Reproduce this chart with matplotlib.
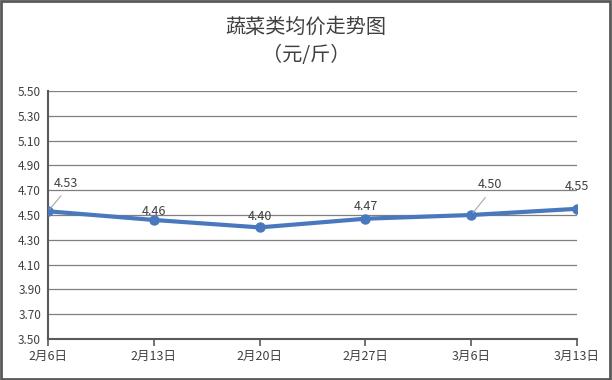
import numpy as np
import matplotlib.pyplot as plt
from matplotlib.patches import Rectangle

plt.rcParams['font.family'] = ['Noto Sans CJK SC', 'DejaVu Sans']

#chart data
dates = ['2月6日', '2月13日', '2月20日', '2月27日', '3月6日', '3月13日']
prices = [4.53, 4.46, 4.40, 4.47, 4.50, 4.55]
yticks = [3.50, 3.70, 3.90, 4.10, 4.30, 4.50, 4.70, 4.90, 5.10, 5.30, 5.50]
#label offsets in pixels (dx, dy), leader line flag
lab_off = [(18, 28, True), (0, 8, False), (0, 11, False), (0, 12, False), (19, 30, True), (0, 22, False)]

fig = plt.figure(figsize=(6.12, 3.8), dpi=100)
ax = fig.add_axes([48/612, 1-339/380, (577-48)/612, (339-91)/380])

x = np.arange(len(dates))
ax.plot(x, prices, color='#4a78bd', lw=3, marker='o', ms=6.5, zorder=3, solid_capstyle='round')

for xi, v, (dx, dy, lead) in zip(x, prices, lab_off):
    arrow = None
    if lead:
        arrow = dict(arrowstyle='-', color='#a6a6a6', lw=0.8, relpos=(0.5, 0), shrinkA=3, shrinkB=2)
    ax.annotate(f'{v:.2f}', xy=(xi, v), xytext=(dx, dy), textcoords='offset pixels',
                ha='center', va='center', fontsize=9, color='#404040', arrowprops=arrow)

ax.set_xlim(0, len(dates) - 1)
ax.set_ylim(3.5, 5.5)
ax.set_yticks(yticks)
ax.set_yticklabels([f'{t:.2f}' for t in yticks])
ax.set_xticks(x)
ax.set_xticklabels(dates)
ax.yaxis.grid(True, color='#7f7f7f', lw=0.9)
ax.set_axisbelow(True)
ax.tick_params(axis='y', length=0, labelsize=8.5, labelcolor='#404040', pad=5)
ax.tick_params(axis='x', length=5, width=1.2, color='#595959', labelsize=9, labelcolor='#404040', pad=3)
for s in ['top', 'right']:
    ax.spines[s].set_visible(False)
ax.spines['left'].set_color('#595959')
ax.spines['left'].set_linewidth(1.5)
ax.spines['bottom'].set_color('#595959')
ax.spines['bottom'].set_linewidth(1.5)

fig.text(0.5, 1-27/380, '蔬菜类均价走势图', ha='center', va='center', fontsize=14.5, color='#404040', weight='medium')
fig.text(0.5, 1-55/380, '（元/斤）', ha='center', va='center', fontsize=14.5, color='#404040', weight='medium')

fig.patches.append(Rectangle((0.002, 0.003), 0.995, 0.994, transform=fig.transFigure,
                             fill=False, ec='#595959', lw=2))

fig.savefig('out.png', dpi=100)
